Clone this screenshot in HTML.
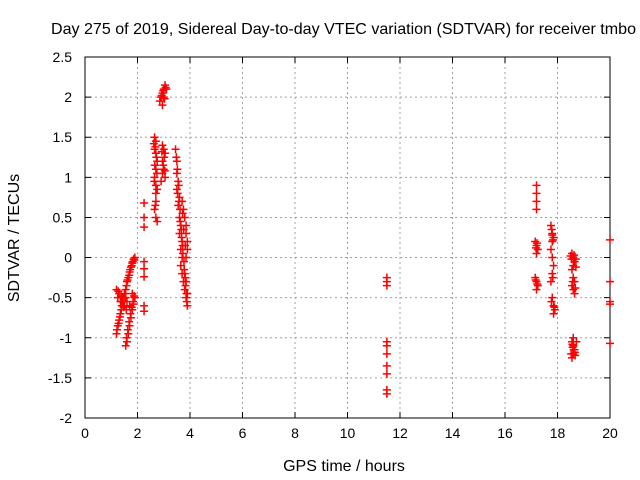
<!DOCTYPE html>
<html><head><meta charset="utf-8"><style>
body{margin:0;background:#fff}
svg{display:block;font-family:"Liberation Sans",sans-serif}
</style></head><body>
<svg id="c" width="640" height="480"></svg>
<script>
const xTicks=[0,2,4,6,8,10,12,14,16,18,20];
const yTicks=[-2,-1.5,-1,-0.5,0,0.5,1,1.5,2,2.5];
const xs=[1.2,1.25,1.3,1.35,1.4,1.3,1.2,1.25,1.35,1.45,1.5,1.55,1.6,1.65,1.7,1.75,1.8,1.85,1.9,
1.55,1.6,1.65,1.7,1.75,1.8,1.85,1.9,1.5,1.6,1.7,1.8,1.4,1.45,1.5,1.55,
1.22,1.28,1.33,1.38,1.42,1.48,1.52,1.58,1.62,1.68,1.72,1.78,1.82,1.88,1.58,1.63,1.68,1.73,1.78,1.83,1.87,1.27,1.37,1.47,1.57,
2.25,2.25,2.25,2.25,2.25,2.25,2.25,2.25,
2.65,2.7,2.65,2.7,2.75,2.7,2.65,2.7,2.75,2.7,2.65,2.7,2.75,
2.62,2.68,2.72,2.66,2.74,2.64,2.7,2.68,
2.95,3.0,3.05,2.95,3.0,2.95,3.05,2.9,3.02,2.98,2.93,3.04,
2.85,2.9,2.95,3.0,3.05,3.0,2.95,3.1,2.92,2.98,3.03,3.07,
3.45,3.5,3.5,3.55,3.5,3.6,3.55,3.6,3.65,3.6,3.7,3.65,3.7,3.65,3.7,3.75,3.8,3.85,3.9,
3.7,3.75,3.8,3.85,3.85,3.9,3.9,3.85,3.8,3.85,3.9,
3.48,3.52,3.57,3.53,3.58,3.62,3.63,3.67,3.68,3.72,3.73,3.77,3.78,3.82,3.83,3.87,3.88,3.72,3.76,3.82,
11.5,11.5,11.5,11.5,11.5,11.5,11.5,11.5,11.5,11.5,
17.2,17.2,17.2,17.2,17.15,17.2,17.25,17.2,17.15,17.2,17.25,17.2,17.18,17.22,17.17,17.23,
17.75,17.8,17.85,17.8,17.75,17.8,17.85,17.8,17.75,17.8,17.85,17.9,17.85,17.78,17.83,17.82,17.77,17.88,17.8,
18.55,18.6,18.65,18.6,18.55,18.6,18.65,18.55,18.6,18.65,18.6,18.55,18.6,18.65,18.6,18.55,
18.5,18.7,18.58,18.68,18.52,18.62,18.72,18.57,18.67,18.53,18.63,18.7,18.58,18.66,
20,20,20,20,20];
const ys=[-0.95,-0.85,-0.78,-0.7,-0.6,-0.45,-0.4,-0.5,-0.55,-0.5,-0.45,-0.4,-0.3,-0.25,-0.18,-0.12,-0.07,-0.02,0.0,
-1.1,-1.05,-0.95,-0.85,-0.75,-0.65,-0.58,-0.5,-0.6,-0.55,-0.6,-0.45,-0.5,-0.55,-0.6,-0.5,
-0.9,-0.82,-0.74,-0.65,-0.55,-0.6,-0.5,-0.35,-0.28,-0.22,-0.15,-0.1,-0.05,-0.03,-1.0,-0.9,-0.8,-0.7,-0.62,-0.55,-0.48,-0.42,-0.48,-0.62,-0.65,
0.68,0.5,0.38,-0.05,-0.14,-0.24,-0.6,-0.67,
1.5,1.45,1.35,1.3,1.2,1.1,1.0,0.9,0.85,0.7,0.6,0.5,0.45,
1.42,1.38,1.25,1.15,1.05,0.95,0.8,0.65,
1.4,1.35,1.3,1.2,1.1,1.05,1.0,0.95,1.25,1.15,1.32,1.08,
1.95,2.0,2.05,2.1,2.15,2.0,1.9,2.1,2.02,2.08,1.98,2.12,
1.35,1.2,1.05,0.95,0.85,0.75,0.65,0.5,0.4,0.3,0.2,0.1,0.0,-0.1,-0.2,-0.3,-0.4,-0.5,-0.6,
0.7,0.6,0.5,0.4,0.3,0.2,0.1,0.0,-0.2,-0.3,-0.45,
1.25,1.1,0.9,0.8,0.7,0.6,0.45,0.35,0.25,0.15,0.05,-0.05,-0.15,-0.25,-0.35,-0.45,-0.55,0.55,0.35,0.15,
-0.25,-0.3,-0.35,-1.05,-1.1,-1.2,-1.35,-1.45,-1.65,-1.7,
0.9,0.8,0.7,0.6,0.2,0.15,0.1,0.05,-0.25,-0.3,-0.35,-0.4,0.12,0.18,-0.28,-0.33,
0.4,0.3,0.25,0.2,0.1,0.0,-0.1,-0.2,-0.3,-0.5,-0.6,-0.65,-0.7,0.35,0.22,-0.25,-0.55,-0.62,0.28,
0.05,0.0,-0.05,-0.1,-0.15,-0.25,-0.3,-0.35,-0.4,-0.45,-1.0,-1.05,-1.1,-1.15,-1.2,-1.25,
0.02,-0.02,-0.3,-0.38,-1.2,-1.15,-1.05,-1.08,-1.22,-0.02,0.03,-0.12,-1.12,-1.18,
0.22,-0.3,-0.55,-0.58,-1.07];
const L=85,R=610,T=57,B=418;
const X=v=>L+(v-0)/(20-0)*(R-L);
const Y=v=>B-(v+2)/(4.5)*(B-T);
const s=document.getElementById('c');const N='http://www.w3.org/2000/svg';
function mk(t,a,txt){const e=document.createElementNS(N,t);for(const k in a)e.setAttribute(k,a[k]);if(txt!=null)e.textContent=txt;s.appendChild(e);return e;}
xTicks.forEach(v=>{const x=X(v);
if(v>0&&v<20){const g=mk('line',{x1:x,x2:x,y1:T,y2:B,stroke:'#a0a0a0','stroke-dasharray':'2,3'});}
const tk=mk('path',{d:`M${x} ${B}v-6M${x} ${T}v6`,stroke:'#000'});
const t=mk('text',{x:x,y:B+20,'text-anchor':'middle','font-size':14},v);});
yTicks.forEach(v=>{const y=Y(v);
if(v>-2&&v<2.5){const g=mk('line',{x1:L,x2:R,y1:y,y2:y,stroke:'#a0a0a0','stroke-dasharray':'2,3'});}
const tk=mk('path',{d:`M${L} ${y}h6M${R} ${y}h-6`,stroke:'#000'});
const t=mk('text',{x:L-13,y:y+5,'text-anchor':'end','font-size':14},v);});
const fr=mk('rect',{x:L,y:T,width:R-L,height:B-T,fill:'none',stroke:'#000'});
xs.forEach((v,i)=>{const x=X(v),y=Y(ys[i]);const p=mk('path',{d:`M${x-4} ${y}h8M${x} ${y-4}v8`,stroke:'#f00','stroke-width':1.5});});
const tt=mk('text',{x:51,y:34,'font-size':16,textLength:585,lengthAdjust:'spacingAndGlyphs'},'Day 275 of 2019, Sidereal Day-to-day VTEC variation (SDTVAR) for receiver tmbo');
const xl=mk('text',{x:344,y:471,'text-anchor':'middle','font-size':16},'GPS time / hours');
const yl=mk('text',{x:19,y:238,'text-anchor':'middle','font-size':16,transform:'rotate(-90 19 238)'},'SDTVAR / TECUs');
</script>
</body></html>
